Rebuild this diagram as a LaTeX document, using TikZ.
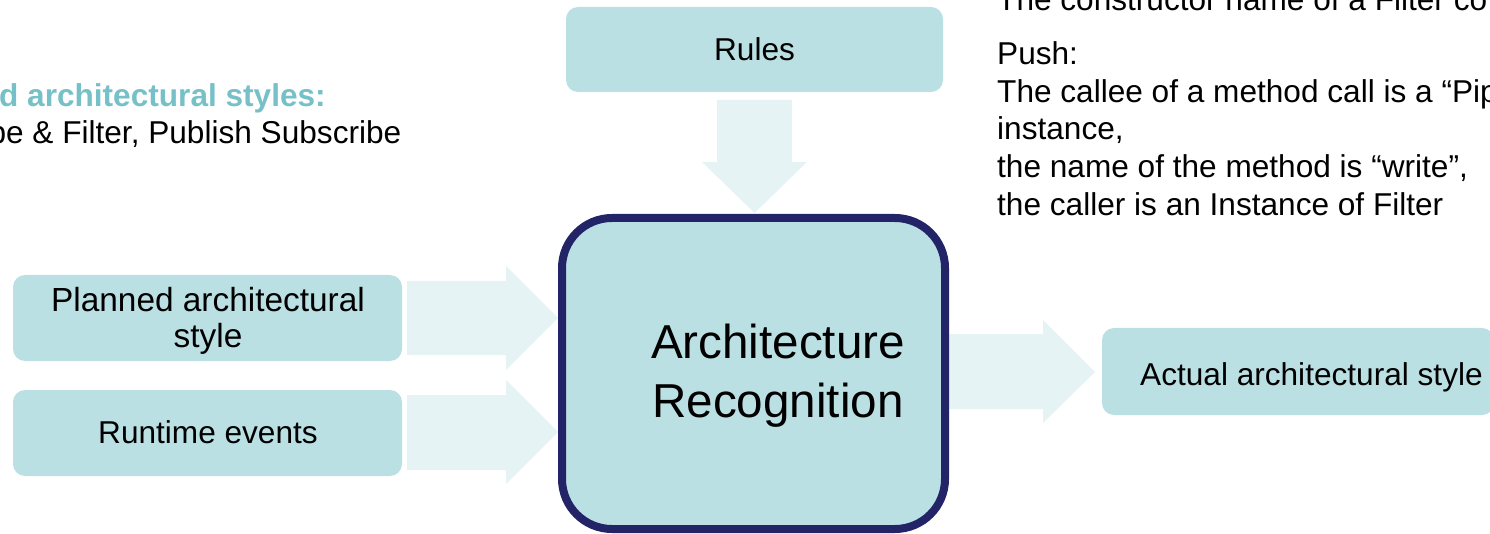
\documentclass[tikz,border=0pt]{standalone}
\usepackage{fontspec}
\setmainfont{Liberation Sans}

\definecolor{boxfill}{RGB}{186,224,228}
\definecolor{arrowfill}{RGB}{230,243,244}
\definecolor{navyline}{RGB}{35,36,104}
\definecolor{headteal}{RGB}{118,192,200}

\begin{document}
\begin{tikzpicture}[x=1pt, y=-1pt,
  txt/.style={font=\fontsize{31.6}{37}\selectfont, inner sep=0pt, text=black},
  bigtxt/.style={font=\fontsize{47.6}{59}\selectfont, inner sep=0pt, text=black},
  stepbox/.style={fill=boxfill, draw=none, rounded corners=12pt, inner sep=0pt},
  blockarrow/.style={fill=arrowfill, draw=none},
]
\useasboundingbox (0,0) rectangle (1490,534);

% side notes
\node[txt, font=\fontsize{31.6}{37}\selectfont\bfseries, text=headteal, anchor=base east]
  (head) at (326,106.5) {d architectural styles:};
\node[txt, anchor=base east] (stylelist) at (401.5,143.5) {pe \& Filter, Publish Subscribe};

\node[txt, anchor=base west] (ctor) at (997,11) {The constructor name of a Filter co};
\node[txt, anchor=base west] (push) at (997,65) {Push:};
\node[txt, anchor=base west] (push1) at (997,103) {The callee of a method call is a “Pip};
\node[txt, anchor=base west] (push2) at (997,140) {instance,};
\node[txt, anchor=base west] (push3) at (997,178) {the name of the method is “write”,};
\node[txt, anchor=base west] (push4) at (997,216) {the caller is an Instance of Filter};

% input / output boxes
\node[stepbox, minimum width=377pt, minimum height=85pt] (rules) at (754.5,49.5) {};
\node[txt] (rulestxt) at (rules.center) {Rules};
\node[stepbox, minimum width=389pt, minimum height=86pt] (planned) at (207.5,318) {};
\node[txt, font=\fontsize{33.4}{36}\selectfont, align=center] (plannedtxt) at (208,320.5)
  {Planned architectural\\style};
\node[stepbox, minimum width=389pt, minimum height=86pt] (runtime) at (207.5,433) {};
\node[txt] (runtimetxt) at (208,432) {Runtime events};
\node[stepbox, minimum width=392pt, minimum height=87pt] (actual) at (1298,371.5) {};
\node[txt, anchor=base west] (actualtxt) at (1140,385) {Actual architectural style};

% block arrows into and out of the recognition step
\fill[blockarrow] (717,100) -- (792,100) -- (792,162) -- (807,162) -- (754.5,213)
  -- (702,162) -- (717,162) -- cycle;
\fill[blockarrow] (407,281) -- (506,281) -- (506,266) -- (558,318) -- (506,370)
  -- (506,355) -- (407,355) -- cycle;
\fill[blockarrow] (407,395) -- (506,395) -- (506,380) -- (558,432) -- (506,484)
  -- (506,470) -- (407,470) -- cycle;
\fill[blockarrow] (948,334) -- (1043,334) -- (1043,320) -- (1095,372) -- (1043,423)
  -- (1043,409) -- (948,409) -- cycle;

% central step
\node[fill=boxfill, draw=navyline, line width=8pt, rounded corners=50pt,
  minimum width=383pt, minimum height=311pt, inner sep=0pt] (recog) at (753.5,373.5) {};
\node[bigtxt, align=center] (recogtxt) at (778,375.5) {Architecture\\Recognition};
\end{tikzpicture}
\end{document}
